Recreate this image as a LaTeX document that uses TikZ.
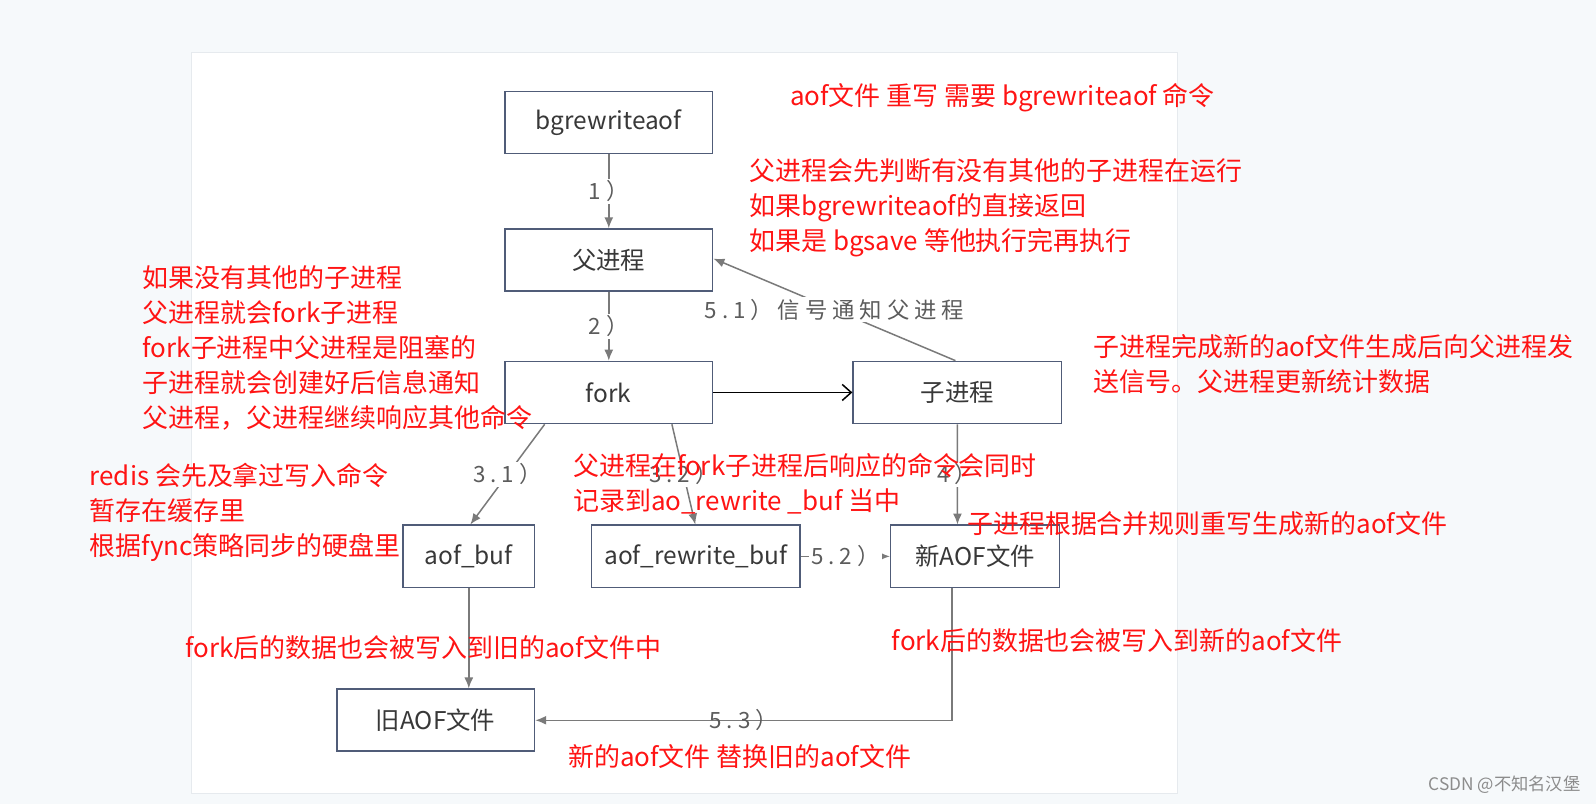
\documentclass[tikz,border=0pt]{standalone}
\usepackage{fontspec}
\setmainfont{Noto Sans CJK SC}
\newfontfamily\lblfont[LetterSpace=22]{Noto Sans CJK SC}
\usetikzlibrary{arrows.meta}
\definecolor{bgc}{HTML}{F6F9FB}
\definecolor{paneledge}{HTML}{E6EAEE}
\definecolor{boxline}{HTML}{505C78}
\definecolor{boxtxt}{HTML}{383838}
\definecolor{conn}{HTML}{7A7A7A}
\definecolor{lblc}{HTML}{5C5C5C}
\definecolor{redtxt}{HTML}{FF1414}
\definecolor{wm}{HTML}{8C8C8C}
\tikzset{
  stepbox/.style={draw=boxline, line width=1.5pt, fill=white, minimum height=61pt, inner sep=0pt,
    text=boxtxt, font=\fontsize{24}{24}\selectfont},
  connline/.style={draw=conn, line width=1.5pt, -{Latex[length=11pt,width=9pt]}},
  lbl/.style={fill=white, inner sep=2pt, text=lblc, font=\lblfont\fontsize{22}{22}\selectfont},
  note/.style={anchor=north west, inner sep=0pt, align=left, text=redtxt, font=\fontsize{25.5}{34.3}\selectfont},
}
\begin{document}
\begin{tikzpicture}[x=1pt,y=-1pt,scale=1.01786,transform shape]
\useasboundingbox (0,0) rectangle (1568,790);
\fill[bgc] (0,0) rectangle (1568,790);
\filldraw[fill=white, draw=paneledge, line width=1pt] (188,52) rectangle (1157,780);

% boxes
\node[stepbox, minimum width=204pt] (bgr) at (598,120.5) {bgrewriteaof};
\node[stepbox, minimum width=204pt] (par) at (598,255.5) {父进程};
\node[stepbox, minimum width=204pt] (fork) at (598,385.5) {fork};
\node[stepbox, minimum width=205pt] (child) at (940.5,385.5) {子进程};
\node[stepbox, minimum width=129pt] (aofbuf) at (460.5,546.5) {aof\_buf};
\node[stepbox, minimum width=205pt] (arb) at (683.5,546.5) {aof\_rewrite\_buf};
\node[stepbox, minimum width=166pt] (newaof) at (958,546.5) {新AOF文件};
\node[stepbox, minimum width=194pt] (oldaof) at (428,707.5) {旧AOF文件};

% connectors
\draw[connline] (bgr.south) -- node[lbl] {1）} (par.north);
\draw[connline] (par.south) -- node[lbl] {2）} (fork.north);
\draw[line width=1.5pt, black, -{Straight Barb[length=9pt,width=16pt,line width=1.5pt]}] (fork.east) -- (child.west);
\draw[connline] ([xshift=-2pt]child.north) -- node[lbl, pos=0.5] {5.1）信号通知父进程} ([yshift=1.5pt]par.east);
\draw[connline] ([xshift=-63pt]fork.south) -- node[lbl] {3.1）} ([xshift=1.5pt]aofbuf.north);
\draw[connline] ([xshift=62pt]fork.south) -- node[lbl] {3.2）} ([xshift=-0.5pt]arb.north);
\draw[connline] (child.south) -- node[lbl] {4）} ([xshift=-17.5pt]newaof.north);
\draw[connline] (arb.east) -- node[lbl] {5.2）} (newaof.west);
\draw[connline] (aofbuf.south) -- (aofbuf.south |- oldaof.north);
\coordinate (nb) at ([xshift=-23pt]newaof.south);
\draw[connline] (nb) |- node[pos=0.75, text=lblc, inner sep=0pt, font=\lblfont\fontsize{22}{22}\selectfont] {5.3）} (oldaof.east);

% red annotations
\node[note] (nA) at (776,82) {aof文件 重写 需要 bgrewriteaof 命令};
\node[note] (nB) at (736,156) {父进程会先判断有没有其他的子进程在运行\\如果bgrewriteaof的直接返回\\如果是 bgsave 等他执行完再执行};
\node[note] (nC) at (140,261) {如果没有其他的子进程\\父进程就会fork子进程\\fork子进程中父进程是阻塞的\\子进程就会创建好后信息通知\\父进程，父进程继续响应其他命令};
\node[note] (nD) at (1074,328) {子进程完成新的aof文件生成后向父进程发\\送信号。父进程更新统计数据};
\node[note] (nE) at (88,455) {redis 会先及拿过写入命令\\暂存在缓存里\\根据fync策略同步的硬盘里};
\node[note] (nF) at (563,445) {父进程在fork子进程后响应的命令会同时\\记录到ao\_rewrite \_buf 当中};
\node[note] (nG) at (950,502) {子进程根据合并规则重写生成新的aof文件};
\node[note] (nH) at (182,624) {fork后的数据也会被写入到旧的aof文件中};
\node[note] (nI) at (876,617) {fork后的数据也会被写入到新的aof文件};
\node[note] (nJ) at (558,731) {新的aof文件 替换旧的aof文件};

% watermark
\node[anchor=east, inner sep=0pt, text=wm, font=\fontsize{17}{17}\selectfont] (wmk) at (1553,771) {CSDN @不知名汉堡};
\end{tikzpicture}
\end{document}
